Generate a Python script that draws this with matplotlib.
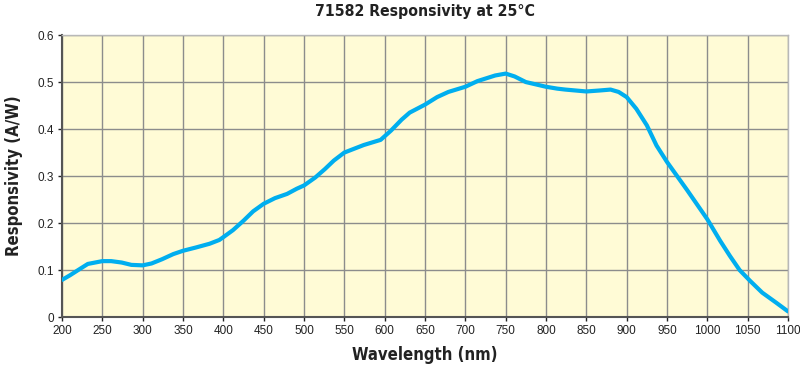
import matplotlib.pyplot as plt
from matplotlib import font_manager

wavelength = [200, 210, 220, 232, 250, 261, 274, 286, 300, 311, 324, 338, 350, 366,
              383, 395, 400, 412, 425, 437, 450, 464, 479, 491, 500, 514, 526, 537,
              550, 574, 595, 608, 621, 631, 650, 665, 679, 700, 715, 737, 750, 761,
              775, 800, 814, 824, 850, 866, 880, 890, 900, 912, 925, 937, 950, 975,
              1000, 1016, 1028, 1040, 1053, 1068, 1085, 1100]
responsivity = [0.079, 0.089, 0.100, 0.113, 0.119, 0.119, 0.116, 0.111, 0.110, 0.114,
                0.123, 0.134, 0.141, 0.148, 0.156, 0.164, 0.170, 0.185, 0.205, 0.225,
                0.241, 0.253, 0.262, 0.273, 0.280, 0.297, 0.315, 0.333, 0.350, 0.366,
                0.377, 0.397, 0.420, 0.435, 0.452, 0.468, 0.479, 0.490, 0.502, 0.514,
                0.518, 0.512, 0.500, 0.490, 0.486, 0.484, 0.480, 0.482, 0.484, 0.479,
                0.468, 0.443, 0.408, 0.365, 0.330, 0.270, 0.208, 0.162, 0.130, 0.100,
                0.077, 0.052, 0.031, 0.012]
x_ticks = list(range(200, 1101, 50))
y_ticks = [0, 0.1, 0.2, 0.3, 0.4, 0.5, 0.6]
y_tick_labels = ["0", "0.1", "0.2", "0.3", "0.4", "0.5", "0.6"]

names = {f.name for f in font_manager.fontManager.ttflist}
if "Liberation Sans Narrow" in names:
    label_font = dict(family="Liberation Sans Narrow")
else:
    label_font = dict(family="DejaVu Sans", fontstretch="condensed")
plt.rcParams["font.family"] = ["Liberation Sans", "DejaVu Sans"]

fig = plt.figure(figsize=(8, 3.73), dpi=100)
ax = fig.add_axes([0.0775, 0.150, 0.9075, 0.756])
ax.set_facecolor("#fffbd6")

ax.plot(wavelength, responsivity, color="#00aeef", linewidth=3.0,
        solid_joinstyle="round", solid_capstyle="round", zorder=3)

ax.set_xlim(200, 1100)
ax.set_ylim(0, 0.6)
ax.set_xticks(x_ticks)
ax.set_yticks(y_ticks)
ax.set_yticklabels(y_tick_labels)
ax.tick_params(labelsize=8.5, colors="#222222", length=3, width=1, pad=3)
ax.grid(color="#8c8c8c", linewidth=1.0, zorder=1)
ax.set_axisbelow(True)

for side in ["top", "right"]:
    ax.spines[side].set_color("#b8b8b8")
    ax.spines[side].set_linewidth(1.0)
for side in ["left", "bottom"]:
    ax.spines[side].set_color("#555555")
    ax.spines[side].set_linewidth(1.5)

ax.set_title("71582 Responsivity at 25°C", fontsize=11.3, fontweight="bold",
             color="#222222", pad=14, **label_font)
ax.set_xlabel("Wavelength (nm)", fontsize=12, fontweight="bold",
              color="#222222", labelpad=6, **label_font)
ax.set_ylabel("Responsivity (A/W)", fontsize=12, fontweight="bold",
              color="#222222", labelpad=10, **label_font)

fig.savefig("out.png", dpi=100)
